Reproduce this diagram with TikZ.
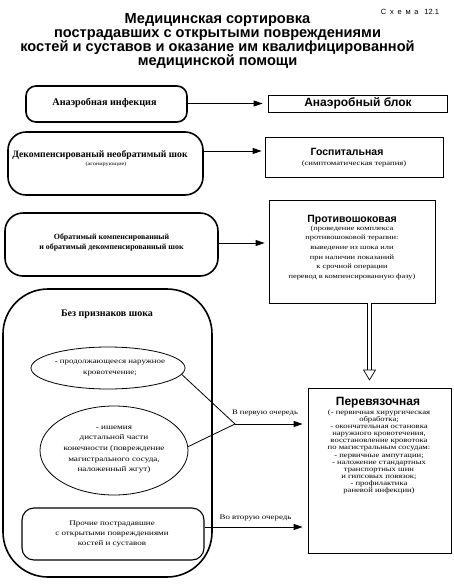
\documentclass[tikz,border=0pt]{standalone}
\usepackage{fontspec}
\setmainfont{Liberation Serif}
\newfontfamily\srf[FakeStretch=1.25]{Liberation Serif}
\newfontfamily\sns{Liberation Sans}
\usetikzlibrary{arrows.meta,shapes.geometric}
\newcommand{\fs}[2]{\fontsize{#1}{#2}\selectfont}
\begin{document}
\begin{tikzpicture}[x=1pt,y=-1pt,
  rbox/.style={draw, line width=1.6pt, rounded corners=#1, inner sep=0pt},
  sbox/.style={draw, line width=0.8pt, inner sep=0pt},
  ell/.style={draw, ellipse, line width=0.8pt, inner sep=0pt},
  txt/.style={inner sep=0pt, align=center},
  arr/.style={-{Triangle[length=9pt,width=6pt]}, line width=0.9pt},
  lnk/.style={line width=0.8pt}]
\useasboundingbox[fill=white] (0,0) rectangle (453,584);

% title
\node[txt, font=\sns\fs{7.5}{9}] (scheme) at (410,12) {С\,\,\,х\,\,\,е\,\,\,м\,\,\,а\,\,\, 12.1};
\node[txt, font=\sns\bfseries\fs{14.6}{14}] (title) at (217.5,40.5)
  {Медицинская сортировка\\пострадавших с открытыми повреждениями\\костей и суставов и оказание им квалифицированной\\медицинской помощи};

% left boxes
\node[rbox=10pt, minimum width=161pt, minimum height=36pt] (b1) at (106.5,104) {};
\node[txt, font=\rmfamily\bfseries\fs{10.2}{12}] (t1) at (104.5,103) {Анаэробная инфекция};

\node[rbox=18pt, minimum width=195pt, minimum height=63pt] (b2) at (105.5,163.5) {};
\node[txt, font=\rmfamily\bfseries\fs{9.7}{12}, anchor=base] (t2) at (100,157.5) {Декомпенсированый необратимый шок};
\node[txt, font=\srf\fs{5}{6}, anchor=base] (t2b) at (106,165.5) {(агонирующие)};

\node[rbox=18pt, minimum width=213pt, minimum height=63pt] (b3) at (111.5,244.5) {};
\node[txt, font=\rmfamily\bfseries\fs{7.9}{10}] (t3) at (111.5,243) {Обратимый компенсированный\\и обратимый декомпенсированный шок};

% right boxes
\node[sbox, minimum width=179pt, minimum height=17pt] (r1) at (357.5,103.5) {};
\node[txt, font=\sns\bfseries\fs{12}{14}] (s1) at (358,103.5) {Анаэробный блок};

\node[sbox, minimum width=178pt, minimum height=40pt] (r2) at (354,157) {};
\node[txt, font=\sns\bfseries\fs{10.5}{12}] (s2) at (347,152) {Госпитальная};
\node[txt, font=\srf\fs{6.9}{9}] (s2b) at (354,163.5) {(симптоматическая терапия)};

\node[sbox, minimum width=166pt, minimum height=103pt] (r3) at (352,251.5) {};
\node[txt, font=\sns\bfseries\fs{10.5}{12}] (s3) at (352,220) {Противошоковая};
\node[txt, font=\srf\fs{6.7}{9.6}, anchor=north] (s3b) at (352,225.5)
  {(проведение комплекса\\противошоковой терапии:\\выведение из шока или\\при наличии показаний\\к срочной операции\\перевод в компенсированную фазу)};

\node[sbox, minimum width=143pt, minimum height=165pt] (r4) at (379.5,470.5) {};
\node[txt, font=\sns\bfseries\fs{12}{14}] (s4) at (378,403) {Перевязочная};
\node[txt, font=\srf\fs{6.9}{7.1}, anchor=north] (s4b) at (379,409.5)
  {(- первичная хирургическая\\обработка;\\- окончательная остановка\\наружного кровотечения,\\восстановление кровотока\\по магистральным сосудам:\\- первичные ампутации;\\- наложение стандартных\\транспортных шин\\и гипсовых повязок;\\- профилактика\\раневой инфекции)};

% big group
\node[rbox=45pt, minimum width=209pt, minimum height=288pt] (big) at (107.5,433) {};
\node[txt, font=\rmfamily\bfseries\fs{10}{12}] (tb) at (107,314) {Без признаков шока};

\node[ell, minimum width=154pt, minimum height=42pt] (e1) at (108,368) {};
\node[txt, font=\srf\fs{7.1}{11}] (te1) at (110,368.5) {- продолжающееся наружное\\кровотечение;};

\node[ell, minimum width=148pt, minimum height=89pt] (e2) at (114,450.5) {};
\node[txt, font=\srf\fs{7.3}{10.7}] (te2) at (114,449.5) {- ишемия\\дистальной части\\конечности (повреждение\\магистрального сосуда,\\наложенный жгут)};

\node[rbox=12pt, line width=1.1pt, minimum width=182pt, minimum height=52pt] (b4) at (113,534) {};
\node[txt, font=\srf\fs{7.2}{10}] (tb4) at (112,534) {Прочие пострадавшие\\с открытыми повреждениями\\костей и суставов};

% connectors
\coordinate (y1) at (0,103.5);
\coordinate (y2) at (0,151);
\coordinate (y3) at (0,243);
\coordinate (y5) at (0,527);
\coordinate (col) at (369.5,0);
\coordinate (m) at (235,424);

\draw[arr, shorten >=5pt] (b1.east |- y1) -- (r1.west |- y1);
\draw[arr, shorten >=3pt] (b2.east |- y2) -- (r2.west |- y2);
\draw[arr, shorten >=4pt] (b3.east |- y3) -- (r3.west |- y3);
\draw[line width=0.7pt, double distance=3.5pt, -{Triangle[open,length=11pt,width=13pt]}, shorten >=7pt] (r3.south -| col) -- (r4.north -| col);

\draw[lnk] (e1.-5) -- (m) -- (e2.3);
\draw[arr, shorten >=5pt] (m) -- (m -| r4.west);
\node[txt, font=\srf\fs{6.9}{8}] (l1) at (265,413) {В первую очередь};
\draw[arr, shorten >=5pt] (b4.east |- y5) -- (r4.west |- y5);
\node[txt, font=\srf\fs{7.1}{8}] (l2) at (255.5,518) {Во вторую очередь};
\end{tikzpicture}
\end{document}
